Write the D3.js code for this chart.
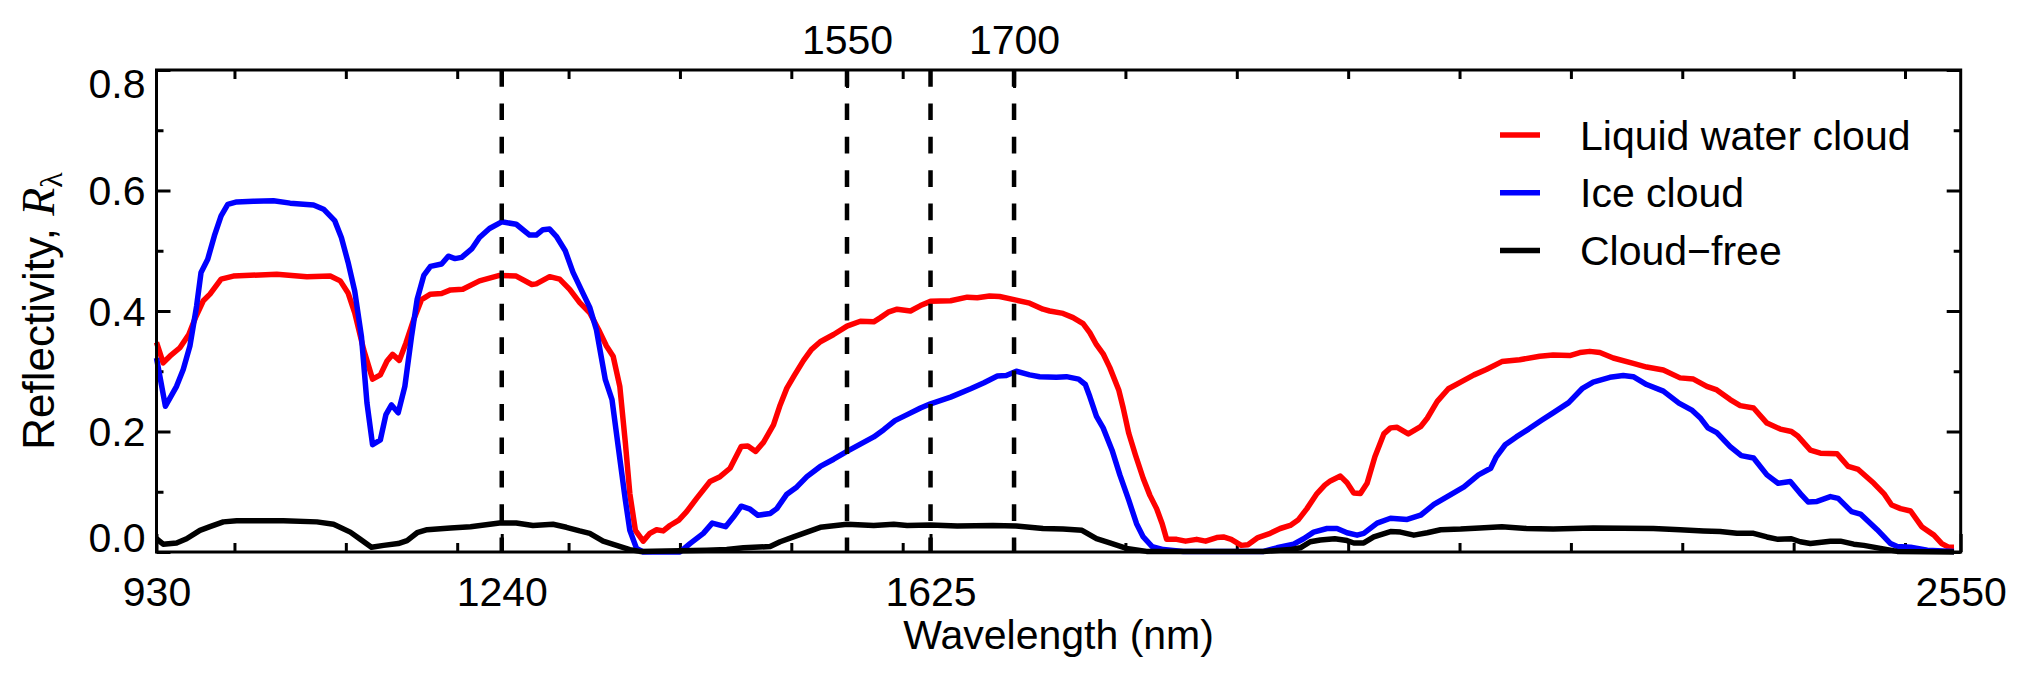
<!DOCTYPE html>
<html>
<head>
<meta charset="utf-8">
<script src="https://cdn.jsdelivr.net/npm/d3@7"></script>
<style>
  body { margin: 0; background: #fff; }
  svg { display: block; background: #fff; }
</style>
</head>
<body>
<div id="root"></div>
<script>
// [wavelength nm, reflectivity]
const liquidCloud = [
  [930,0.348],[936,0.314],[942,0.325],[951,0.339],[959,0.361],[965,0.389],[972,0.417],[978,0.428],
  [988,0.453],[999,0.458],[1038,0.461],[1065,0.457],[1086,0.458],[1095,0.450],[1102,0.430],[1108,0.397],
  [1116,0.336],[1124,0.287],[1131,0.294],[1137,0.317],[1142,0.328],[1148,0.318],[1154,0.347],[1161,0.386],
  [1168,0.419],[1176,0.428],[1186,0.429],[1194,0.435],[1205,0.436],[1220,0.450],[1238,0.459],[1253,0.458],
  [1267,0.444],[1271,0.445],[1283,0.457],[1292,0.453],[1301,0.436],[1310,0.414],[1319,0.397],[1327,0.369],
  [1334,0.342],[1340,0.325],[1346,0.275],[1351,0.181],[1355,0.097],[1360,0.036],[1367,0.018],[1373,0.031],
  [1379,0.037],[1385,0.035],[1391,0.044],[1399,0.053],[1406,0.067],[1415,0.089],[1427,0.117],[1436,0.125],
  [1445,0.139],[1455,0.175],[1461,0.176],[1468,0.167],[1475,0.182],[1484,0.211],[1490,0.244],[1496,0.272],
  [1503,0.294],[1511,0.318],[1518,0.336],[1526,0.349],[1538,0.361],[1550,0.375],[1562,0.383],[1574,0.382],
  [1580,0.389],[1587,0.398],[1595,0.403],[1607,0.400],[1616,0.409],[1625,0.416],[1643,0.417],[1658,0.423],
  [1667,0.422],[1678,0.425],[1687,0.424],[1702,0.418],[1714,0.413],[1726,0.403],[1732,0.400],[1744,0.396],
  [1753,0.389],[1762,0.379],[1768,0.364],[1774,0.344],[1780,0.329],[1786,0.306],[1794,0.269],[1798,0.239],
  [1803,0.197],[1809,0.161],[1816,0.122],[1822,0.094],[1828,0.072],[1833,0.047],[1837,0.021],[1846,0.021],
  [1854,0.018],[1864,0.021],[1872,0.018],[1882,0.024],[1888,0.025],[1895,0.021],[1904,0.011],[1910,0.012],
  [1919,0.024],[1930,0.031],[1939,0.039],[1948,0.044],[1955,0.053],[1963,0.072],[1972,0.097],[1979,0.111],
  [1984,0.118],[1993,0.126],[1999,0.115],[2005,0.098],[2011,0.097],[2017,0.114],[2024,0.158],[2032,0.196],
  [2038,0.206],[2044,0.207],[2054,0.196],[2065,0.208],[2071,0.222],[2080,0.250],[2090,0.271],[2101,0.282],
  [2113,0.294],[2124,0.303],[2138,0.316],[2154,0.319],[2172,0.325],[2184,0.327],[2199,0.326],[2208,0.331],
  [2217,0.333],[2226,0.331],[2238,0.322],[2256,0.313],[2268,0.307],[2283,0.302],[2298,0.289],[2310,0.287],
  [2322,0.275],[2331,0.269],[2343,0.253],[2352,0.243],[2364,0.239],[2376,0.214],[2388,0.204],[2398,0.200],
  [2404,0.192],[2415,0.169],[2424,0.164],[2439,0.163],[2449,0.142],[2458,0.137],[2472,0.114],[2481,0.097],
  [2488,0.078],[2496,0.072],[2505,0.068],[2515,0.042],[2526,0.028],[2533,0.014],[2539,0.008],[2544,0.008]
];

const iceCloud = [
  [930,0.322],[938,0.242],[948,0.275],[954,0.303],[960,0.342],[966,0.408],[970,0.464],[976,0.486],
  [982,0.525],[988,0.558],[994,0.577],[1002,0.581],[1017,0.582],[1035,0.583],[1050,0.579],[1071,0.576],
  [1080,0.569],[1090,0.550],[1096,0.522],[1102,0.481],[1108,0.433],[1114,0.358],[1119,0.247],[1124,0.178],
  [1131,0.186],[1136,0.228],[1141,0.244],[1147,0.231],[1153,0.275],[1159,0.358],[1164,0.419],[1170,0.459],
  [1176,0.474],[1186,0.478],[1192,0.491],[1198,0.487],[1204,0.489],[1213,0.503],[1220,0.522],[1229,0.537],
  [1240,0.548],[1253,0.544],[1265,0.526],[1271,0.526],[1277,0.535],[1283,0.536],[1289,0.524],[1297,0.500],
  [1304,0.464],[1312,0.433],[1319,0.406],[1325,0.369],[1333,0.286],[1339,0.253],[1345,0.169],[1351,0.086],
  [1355,0.036],[1361,0.006],[1367,0.000],[1400,0.000],[1409,0.014],[1421,0.031],[1429,0.048],[1441,0.042],
  [1448,0.058],[1455,0.076],[1463,0.071],[1470,0.061],[1481,0.064],[1487,0.072],[1496,0.096],[1505,0.108],
  [1514,0.125],[1526,0.142],[1538,0.154],[1550,0.167],[1562,0.179],[1574,0.191],[1583,0.203],[1593,0.218],
  [1604,0.228],[1616,0.239],[1625,0.246],[1643,0.257],[1661,0.271],[1673,0.281],[1685,0.292],[1693,0.293],
  [1702,0.300],[1714,0.294],[1723,0.291],[1738,0.290],[1747,0.291],[1758,0.287],[1764,0.278],[1768,0.258],
  [1774,0.225],[1780,0.206],[1788,0.169],[1795,0.128],[1803,0.086],[1810,0.047],[1816,0.025],[1824,0.009],
  [1834,0.004],[1852,0.001],[1924,0.001],[1936,0.007],[1951,0.013],[1960,0.022],[1969,0.033],[1981,0.039],
  [1990,0.039],[1999,0.032],[2008,0.028],[2014,0.031],[2026,0.048],[2038,0.056],[2053,0.054],[2065,0.061],
  [2077,0.079],[2089,0.092],[2104,0.108],[2117,0.128],[2128,0.139],[2133,0.158],[2141,0.178],[2151,0.191],
  [2162,0.204],[2174,0.219],[2184,0.231],[2198,0.248],[2210,0.271],[2220,0.282],[2235,0.290],[2247,0.293],
  [2256,0.291],[2268,0.278],[2283,0.267],[2297,0.247],[2309,0.235],[2316,0.223],[2323,0.206],[2331,0.198],
  [2343,0.175],[2353,0.160],[2364,0.156],[2376,0.128],[2386,0.114],[2397,0.117],[2406,0.097],[2413,0.083],
  [2421,0.084],[2433,0.092],[2440,0.089],[2452,0.067],[2460,0.063],[2475,0.037],[2487,0.014],[2493,0.009],
  [2505,0.008],[2520,0.003],[2544,0.001]
];

const cloudFree = [
  [930,0.022],[936,0.013],[948,0.015],[957,0.022],[969,0.036],[978,0.042],[990,0.050],[1002,0.052],
  [1044,0.052],[1074,0.050],[1089,0.046],[1104,0.033],[1113,0.021],[1123,0.008],[1134,0.011],[1147,0.014],
  [1155,0.019],[1164,0.032],[1173,0.037],[1194,0.040],[1212,0.042],[1238,0.048],[1253,0.048],[1268,0.044],
  [1286,0.046],[1298,0.041],[1310,0.035],[1319,0.031],[1331,0.018],[1343,0.011],[1355,0.004],[1364,0.001],
  [1424,0.003],[1442,0.004],[1457,0.007],[1481,0.009],[1490,0.017],[1502,0.025],[1514,0.033],[1526,0.041],
  [1550,0.046],[1574,0.044],[1592,0.046],[1604,0.044],[1625,0.045],[1649,0.043],[1681,0.044],[1702,0.043],
  [1726,0.039],[1744,0.038],[1761,0.036],[1774,0.022],[1786,0.015],[1801,0.006],[1819,0.001],[1924,0.001],
  [1948,0.004],[1957,0.007],[1966,0.017],[1975,0.020],[1988,0.022],[1999,0.019],[2005,0.015],[2014,0.015],
  [2023,0.025],[2038,0.034],[2047,0.033],[2059,0.028],[2071,0.032],[2083,0.037],[2101,0.038],[2118,0.040],
  [2138,0.042],[2160,0.039],[2184,0.038],[2220,0.040],[2274,0.039],[2298,0.037],[2319,0.035],[2334,0.034],
  [2349,0.031],[2364,0.031],[2376,0.025],[2386,0.021],[2398,0.022],[2406,0.017],[2415,0.014],[2433,0.018],
  [2442,0.018],[2454,0.013],[2463,0.011],[2478,0.006],[2493,0.001],[2544,0.000]
];

const seriesNames = ['Liquid water cloud', 'Ice cloud', 'Cloud\u2212free'];
const seriesColors = ['#ff0000', '#0000ff', '#000000'];

// tick labels and marker lines
const bottomLabels = [930, 1240, 1625, 2550];
const topLabels = [1550, 1700];
const markerLines = [1240, 1550, 1625, 1700];
const xMinorTicks = [1000, 1100, 1200, 1300, 1400, 1500, 1600, 1700, 1800, 1900, 2000, 2100, 2200, 2300, 2400, 2500];
const yMajorTicks = [0, 0.2, 0.4, 0.6, 0.8];
const yMinorTicks = [0.1, 0.3, 0.5, 0.7];

const width = 2029;
const height = 683;
const padding = { top: 70, right: 68.3, bottom: 131, left: 156.5 };
const fontFamily = "'Liberation Sans', Arial, Helvetica, sans-serif";
const fontSize = 41;

const x = d3.scaleLinear()
  .domain([930, 2550])
  .range([padding.left, width - padding.right]);
const y = d3.scaleLinear()
  .domain([0, 0.8])
  .range([height - padding.bottom, padding.top]);

const svg = d3.select('#root')
  .append('svg')
  .attr('width', width)
  .attr('height', height);

svg.append('rect')
  .attr('width', width)
  .attr('height', height)
  .attr('fill', '#fff');

// axes: ticks point inward, the frame is drawn separately
function styleAxis(g) {
  g.select('.domain').remove();
  g.attr('font-family', fontFamily).attr('font-size', fontSize);
  g.selectAll('line').attr('stroke', '#000').attr('stroke-width', 3);
  g.selectAll('text').attr('fill', '#000');
}

svg.append('g')
  .attr('transform', `translate(0,${y(0)})`)
  .call(d3.axisBottom(x).tickValues(xMinorTicks).tickSize(-9).tickFormat(''))
  .call(styleAxis);
svg.append('g')
  .attr('transform', `translate(0,${y(0)})`)
  .call(d3.axisBottom(x).tickValues(bottomLabels).tickSize(-18).tickFormat(d3.format('d')))
  .call(styleAxis)
  .call(g => g.selectAll('text').attr('y', 54).attr('dy', 0));

svg.append('g')
  .attr('transform', `translate(0,${y(0.8)})`)
  .call(d3.axisTop(x).tickValues(xMinorTicks).tickSize(-9).tickFormat(''))
  .call(styleAxis);
svg.append('g')
  .attr('transform', `translate(0,${y(0.8)})`)
  .call(d3.axisTop(x).tickValues(topLabels).tickSize(-18).tickFormat(d3.format('d')))
  .call(styleAxis)
  .call(g => g.selectAll('text').attr('y', -16).attr('dy', 0));

svg.append('g')
  .attr('transform', `translate(${x(930)},0)`)
  .call(d3.axisLeft(y).tickValues(yMinorTicks).tickSize(-7).tickFormat(''))
  .call(styleAxis);
svg.append('g')
  .attr('transform', `translate(${x(930)},0)`)
  .call(d3.axisLeft(y).tickValues(yMajorTicks).tickSize(-14).tickPadding(11).tickFormat(d3.format('.1f')))
  .call(styleAxis)
  // edge labels are kept inside the frame
  .call(g => g.selectAll('text').attr('dy', 0)
    .attr('y', d => (d === 0.8 ? 27 : d === 0 ? -1 : 14)));

svg.append('g')
  .attr('transform', `translate(${x(2550)},0)`)
  .call(d3.axisRight(y).tickValues(yMinorTicks).tickSize(-7).tickFormat(''))
  .call(styleAxis);
svg.append('g')
  .attr('transform', `translate(${x(2550)},0)`)
  .call(d3.axisRight(y).tickValues(yMajorTicks).tickSize(-14).tickFormat(''))
  .call(styleAxis);

// spectra
const line = d3.line()
  .x(d => x(d[0]))
  .y(d => y(d[1]));

const seriesData = [liquidCloud, iceCloud, cloudFree];
svg.append('g')
  .attr('class', 'curves')
  .selectAll('path')
  .data(seriesData)
  .enter()
  .append('path')
  .attr('d', line)
  .attr('fill', 'none')
  .attr('stroke', (d, i) => seriesColors[i])
  .attr('stroke-width', 5.5)
  .attr('stroke-linejoin', 'round')
  .attr('stroke-linecap', 'butt');

// dashed band markers
svg.append('g')
  .attr('class', 'markers')
  .selectAll('line')
  .data(markerLines)
  .enter()
  .append('line')
  .attr('x1', d => x(d))
  .attr('x2', d => x(d))
  .attr('y1', y(0.8))
  .attr('y2', y(0))
  .attr('stroke', '#000')
  .attr('stroke-width', 4.5)
  .attr('stroke-dasharray', '16.7,16.7');

// frame
svg.append('rect')
  .attr('x', x(930))
  .attr('y', y(0.8))
  .attr('width', x(2550) - x(930))
  .attr('height', y(0) - y(0.8))
  .attr('fill', 'none')
  .attr('stroke', '#000')
  .attr('stroke-width', 3);

// axis titles
svg.append('text')
  .attr('x', (x(930) + x(2550)) / 2)
  .attr('y', 649)
  .attr('text-anchor', 'middle')
  .attr('font-family', fontFamily)
  .attr('font-size', fontSize)
  .text('Wavelength (nm)');

const yTitle = svg.append('text')
  .attr('transform', `translate(54,${(y(0) + y(0.8)) / 2}) rotate(-90)`)
  .attr('text-anchor', 'middle')
  .attr('font-family', fontFamily)
  .attr('font-size', 44);
yTitle.append('tspan').text('Reflectivity, ');
yTitle.append('tspan')
  .attr('font-family', "'Liberation Serif', 'DejaVu Serif', serif")
  .attr('font-style', 'italic')
  .attr('font-size', 46)
  .text('R');
yTitle.append('tspan')
  .attr('font-family', "'Liberation Serif', 'DejaVu Serif', serif")
  .attr('font-size', 32)
  .attr('dy', 8)
  .text('\u03bb');

// legend
const legend = svg.append('g')
  .attr('class', 'legend')
  .attr('transform', 'translate(1500,135)');
const legendItems = legend.selectAll('.legend-item')
  .data(seriesNames)
  .enter()
  .append('g')
  .attr('class', 'legend-item')
  .attr('transform', (d, i) => `translate(0,${i * 57.7})`);
legendItems.append('line')
  .attr('x1', 0)
  .attr('x2', 40)
  .attr('stroke', (d, i) => seriesColors[i])
  .attr('stroke-width', 5.5);
legendItems.append('text')
  .attr('x', 80)
  .attr('y', 14.5)
  .attr('font-family', fontFamily)
  .attr('font-size', fontSize)
  .text(d => d);
</script>
</body>
</html>
